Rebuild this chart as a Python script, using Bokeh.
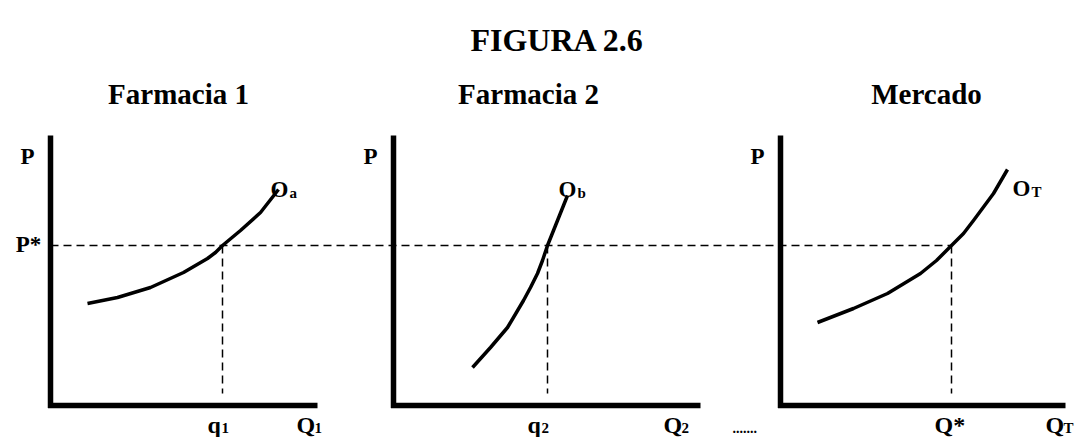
from bokeh.plotting import figure
from bokeh.models import Range1d
from bokeh.core.properties import value
from bokeh.embed import file_html
from bokeh.resources import INLINE

# ---------------- data (panel-local units: Q to the right, P upward) ----------------
title = "FIGURA 2.6"
panel_titles = ["Farmacia 1", "Farmacia 2", "Mercado"]
curve_names = ["a", "b", "T"]            # subscripts of O
q_names = ["q", "q", "Q*"]              # equilibrium quantity labels
q_subs = ["1", "2", ""]
axis_subs = ["1", "2", "T"]              # subscripts of Q axis label

oa_q = [37, 67, 100, 133, 145, 157, 165, 172, 190, 210, 228]
oa_p = [102, 108, 118, 133, 140, 147, 153, 160, 175, 193, 216]
ob_q = [79, 97, 114, 130, 137, 144, 149, 154, 164, 174]
ob_p = [38, 58, 78, 105, 118, 132, 145, 160, 185, 210]
ot_q = [37, 73, 107, 140, 156, 171, 183, 193, 213, 227]
ot_p = [83, 97, 112, 132, 145, 160, 172, 185, 212, 236]

p_star = 160
q_eq = [172, 154, 171]

# ---------------- layout ----------------
W, H = 1080, 437
ox = [50, 393, 780]      # panel origins (page px)
oy = 405
q_len = [267, 307, 285]
p_len = 270
FONT = value("Liberation Serif")

p = figure(width=W, height=H, x_range=Range1d(0, W), y_range=Range1d(H, 0),
           output_backend="svg", toolbar_location=None, min_border=0)
p.axis.visible = False
p.grid.visible = False
p.outline_line_color = None
p.background_fill_color = "white"
p.border_fill_color = "white"


def X(i, q):
    return [ox[i] + v for v in q]


def Y(pv):
    return [oy - v for v in pv]


# dashed guide lines
p.line([ox[0], ox[2] + q_eq[2]], Y([p_star, p_star]), line_color="black",
       line_width=1.5, line_dash="8 5")
for i in range(3):
    p.line(X(i, [q_eq[i], q_eq[i]]), Y([p_star, 12]), line_color="black",
           line_width=1.5, line_dash="8 5")

# axes (thick L-shapes)
for i in range(3):
    p.line(X(i, [0, 0]), Y([-2.5, p_len]), line_color="black", line_width=5.5)
    p.line(X(i, [-2.5, q_len[i]]), Y([0, 0]), line_color="black", line_width=5.5)

# supply curves
for i, (cq, cp) in enumerate([(oa_q, oa_p), (ob_q, ob_p), (ot_q, ot_p)]):
    p.line(X(i, cq), Y(cp), line_color="black", line_width=3.5, line_join="round")


def txt(x, y, s, size, align="center"):
    p.text(x=[x], y=[y], text=[s], text_font=FONT, text_font_style="bold",
           text_font_size=f"{size}px", text_align=align,
           text_baseline="alphabetic", text_color="black")


# titles
txt(557, 39, title, 32)
txt(178, 93, panel_titles[0], 29)
txt(528, 93, panel_titles[1], 29)
txt(926, 93, panel_titles[2], 29)

# P labels
for i in range(3):
    txt(ox[i] - 23, 156, "P", 23)
txt(ox[0] - 22, 244, "P*", 23)

# curve labels O_x
o_pos = [(270, 189), (558, 189), (1012, 188)]
for i in range(3):
    x0, yb = o_pos[i]
    txt(x0, yb, "O", 23, "left")
    txt(x0 + 19, yb + 3, curve_names[i], 15, "left")

# quantity labels along the bottom
qx = [207, 527, 934]
for i in range(3):
    txt(qx[i], 424, q_names[i], 24, "left")
    if q_subs[i]:
        txt(qx[i] + 14, 427, q_subs[i], 15, "left")

axq = [296, 663, 1045]
for i in range(3):
    txt(axq[i], 424, "Q", 24, "left")
    txt(axq[i] + 18, 427, axis_subs[i], 15, "left")

txt(732, 427, ".......", 14, "left")

open("out.html", "w").write(file_html(p, INLINE))
